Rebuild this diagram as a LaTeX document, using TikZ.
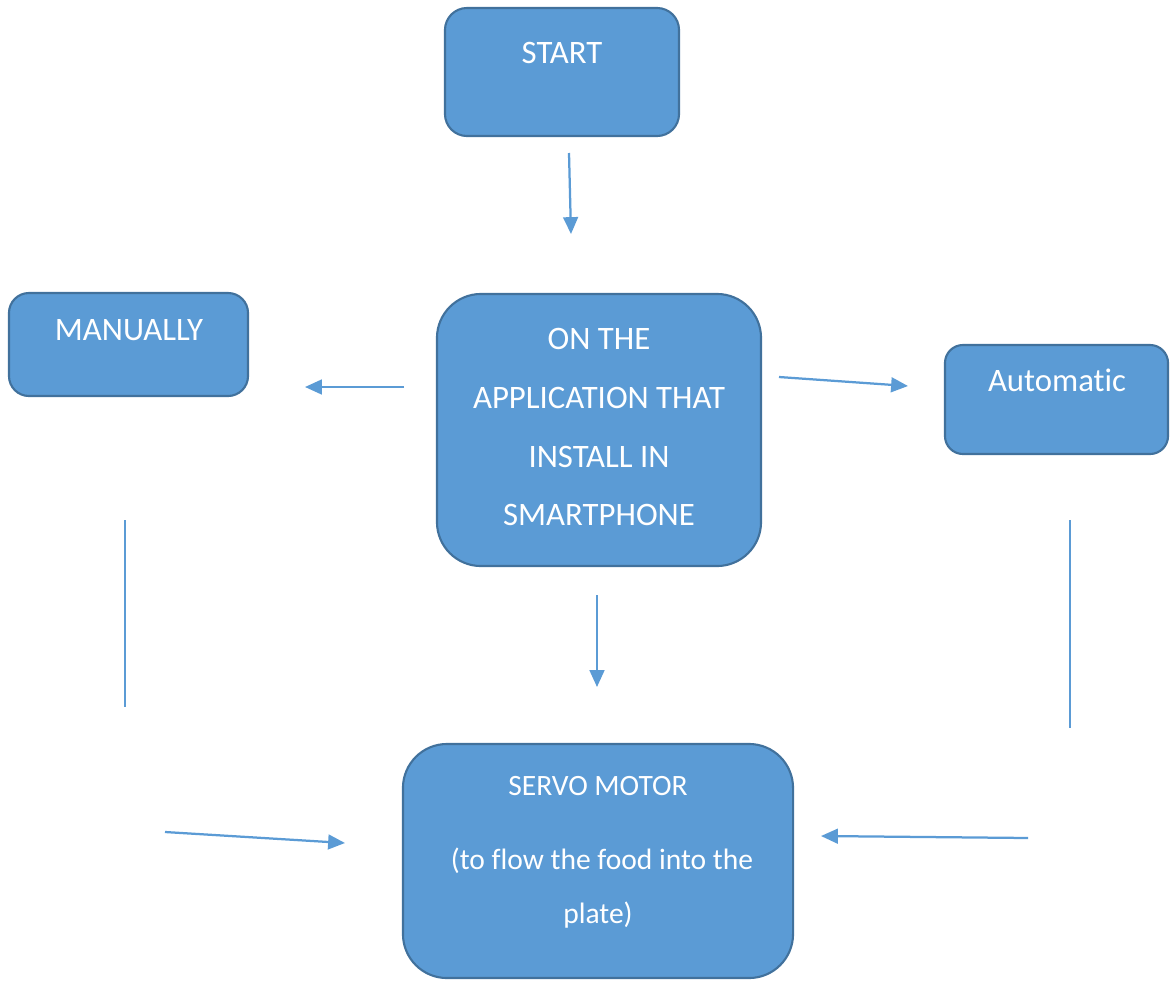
\documentclass[tikz,border=0pt]{standalone}
\usepackage{fontspec}
\setmainfont{Carlito}[Ligatures=NoCommon]
\usetikzlibrary{arrows.meta}
\definecolor{boxblue}{HTML}{5B9BD5}
\definecolor{boxedge}{HTML}{41719C}
\tikzset{
  stepbox/.style={draw=boxedge,fill=boxblue,line width=1.5pt,inner sep=0pt},
  boxtext/.style={text=white,anchor=base,inner sep=0pt,font=\fontsize{23.3}{28}\selectfont},
  smalltext/.style={boxtext,font=\fontsize{21}{25}\selectfont},
  flow/.style={draw=boxblue,line width=1.6pt,-{Triangle[length=12pt,width=10.5pt]}},
  rail/.style={draw=boxblue,line width=0.8pt},
}
\begin{document}
\begin{tikzpicture}[x=0.025cm,y=-0.025cm]
\useasboundingbox (0,0) rectangle (1170,981);

% Boxes
\node[stepbox,rounded corners=0.55cm,minimum width=5.85cm,minimum height=3.2cm] (start) at (562,72) {};
\node[stepbox,rounded corners=0.5cm,minimum width=5.975cm,minimum height=2.575cm] (manual) at (128.5,344.5) {};
\node[stepbox,rounded corners=1.1cm,minimum width=8.1cm,minimum height=6.8cm] (app) at (599,430) {};
\node[stepbox,rounded corners=0.45cm,minimum width=5.575cm,minimum height=2.725cm] (auto) at (1056.5,399.5) {};
\node[stepbox,rounded corners=1.1cm,minimum width=9.75cm,minimum height=5.85cm] (servo) at (598,861) {};

% Texts
\node[boxtext] (starttxt) at (562,63) {START};
\node[boxtext] (manualtxt) at (129,340) {MANUALLY};
\node[boxtext] (autotxt) at (1057,391) {Automatic};
\node[boxtext] (app1) at (599,349) {ON THE};
\node[boxtext] (app2) at (599,408) {APPLICATION THAT};
\node[boxtext] (app3) at (599,467) {INSTALL IN};
\node[boxtext] (app4) at (599,525) {SMARTPHONE};
\node[smalltext] (servo1) at (598,795) {SERVO MOTOR};
\node[smalltext] (servo2) at (602,869) {(to flow the food into the};
\node[smalltext] (servo3) at (598,923) {plate)};

% Arrow ends
\coordinate (s0) at (569,153);  \coordinate (s1) at (571,234);
\coordinate (m0) at (404,387);  \coordinate (m1) at (305,387);
\coordinate (r0) at (779,377);  \coordinate (r1) at (908,386);
\coordinate (d0) at (597,595);  \coordinate (d1) at (597,687);
\coordinate (lt) at (125,520);  \coordinate (lb) at (125,707);
\coordinate (l0) at (165,832);  \coordinate (l1) at (345,843);
\coordinate (rt) at (1070,520); \coordinate (rb) at (1070,728);
\coordinate (q0) at (1028,838); \coordinate (q1) at (821,836);

% Connectors
\draw[flow] (s0) -- (s1);
\draw[flow] (m0) -- (m1);
\draw[flow] (r0) -- (r1);
\draw[flow] (d0) -- (d1);
\draw[rail] (lt) -- (lb);
\draw[flow] (l0) -- (l1);
\draw[rail] (rt) -- (rb);
\draw[flow] (q0) -- (q1);
\end{tikzpicture}
\end{document}
